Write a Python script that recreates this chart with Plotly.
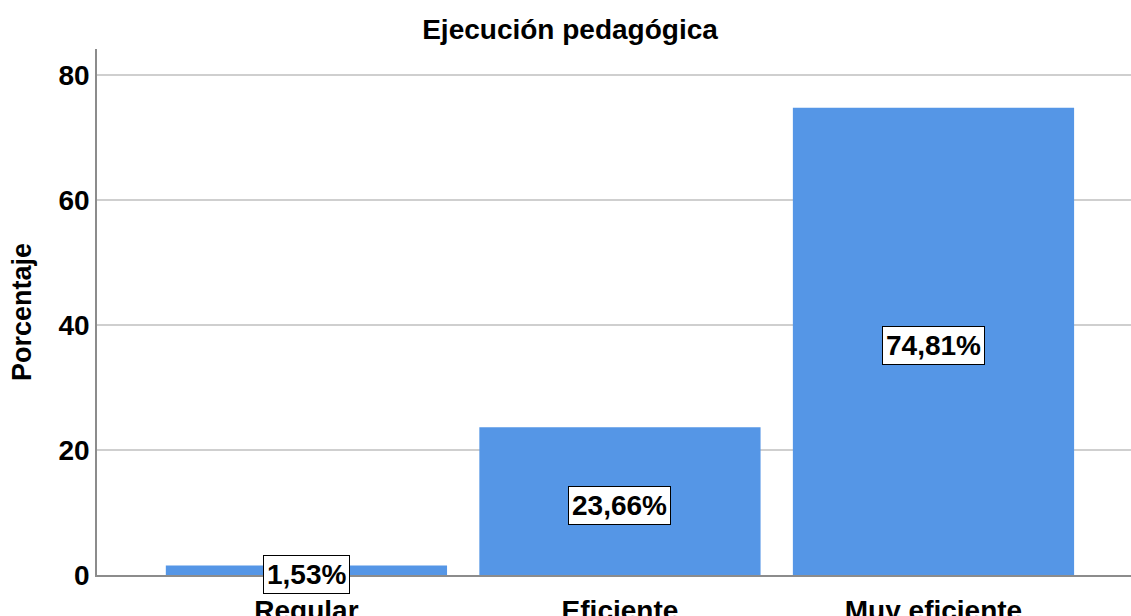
import plotly.graph_objects as go

categories = ["Regular", "Eficiente", "Muy eficiente"]
values = [1.53, 23.66, 74.81]
labels = ["1,53%", "23,66%", "74,81%"]
y_ticks = [0, 20, 40, 60, 80]

FONT = "Liberation Sans, Arial, sans-serif"
BAR = "#5596e6"

fig = go.Figure()
fig.add_trace(go.Bar(
    x=list(range(len(categories))), y=values,
    width=0.897, marker=dict(color=BAR, line=dict(width=0)),
    hoverinfo="skip",
))

for i, (v, t) in enumerate(zip(values, labels)):
    fig.add_annotation(
        x=i, y=v / 2, xref="x", yref="y", text="<b>%s</b>" % t,
        showarrow=False, yshift=-4,
        font=dict(family=FONT, size=28, color="black"),
        bgcolor="white", bordercolor="black", borderwidth=1, borderpad=3,
    )

fig.add_annotation(
    x=(22 - 97) / 1034, y=0.5, xref="paper", yref="paper",
    text="<b>Porcentaje</b>", textangle=-90, showarrow=False,
    font=dict(family=FONT, size=27, color="black"),
    xanchor="center", yanchor="middle",
)

fig.update_layout(
    width=1131, height=616,
    margin=dict(l=97, r=0, t=49, b=40.5, pad=0),
    paper_bgcolor="white", plot_bgcolor="white",
    showlegend=False,
    title=dict(text="<b>Ejecución pedagógica</b>", x=570 / 1131, xanchor="center",
               y=1 - 29 / 616, yanchor="middle", yref="container",
               font=dict(family=FONT, size=28, color="black")),
    xaxis=dict(
        range=[-0.668, 2.63], tickmode="array", automargin=False,
        tickvals=list(range(len(categories))), ticktext=["<b>%s</b>" % c for c in categories],
        tickfont=dict(family=FONT, size=28, color="black"),
        ticks="outside", ticklen=10, tickcolor="rgba(0,0,0,0)",
        showgrid=False, zeroline=False,
        showline=True, linecolor="#8c8c8c", linewidth=1.5,
    ),
    yaxis=dict(
        range=[0, 84.2], tickmode="array", tickvals=y_ticks, automargin=False,
        ticktext=["<b>%d</b>" % v for v in y_ticks],
        tickfont=dict(family=FONT, size=28, color="black"),
        ticks="",
        showgrid=True, gridcolor="#cfcfcf", gridwidth=1.5,
        zeroline=False,
        showline=True, linecolor="#8c8c8c", linewidth=1.5,
    ),
)

fig.write_html(
    "out.html",
    config={"displayModeBar": False},
    post_script="document.body.style.margin='0';document.body.style.overflow='hidden';",
)
